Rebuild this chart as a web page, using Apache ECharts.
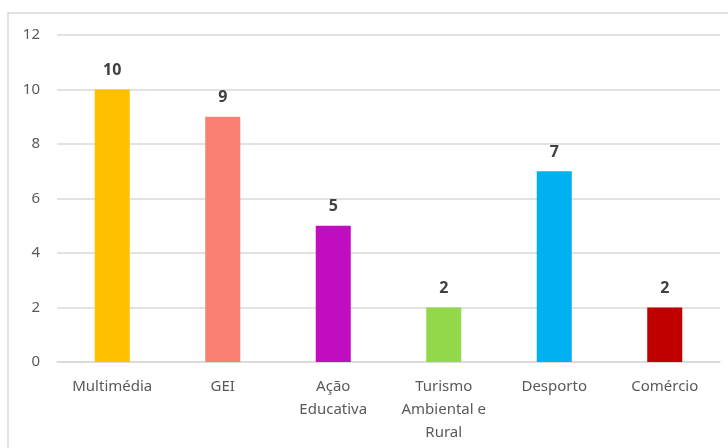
<!DOCTYPE html>
<html>
<head>
<meta charset="utf-8">
<script src="https://cdn.jsdelivr.net/npm/echarts@6/dist/echarts.min.js"></script>
<style>
  html, body { margin: 0; padding: 0; background: #fff; }
  #chart { width: 728px; height: 448px; }
</style>
</head>
<body>
<div id="chart"></div>
<script>
// Activity areas and their counts
const categories = ['Multimédia', 'GEI', 'Ação\nEducativa', 'Turismo\nAmbiental e\nRural', 'Desporto', 'Comércio'];
const values = [10, 9, 5, 2, 7, 2];
const barColors = ['#FFC000', '#FA8072', '#C00DBF', '#92D84A', '#00B0F0', '#C00000'];
const yTicks = [0, 2, 4, 6, 8, 10, 12];

const chart = echarts.init(document.getElementById('chart'), null, { renderer: 'canvas' });
const font = '"Noto Sans", Inter, sans-serif';

chart.setOption({
  animation: false,
  backgroundColor: '#fff',
  graphic: [{
    type: 'rect',
    shape: { x: 8, y: 13, width: 740, height: 460 },
    style: { fill: 'none', stroke: '#d9d9d9', lineWidth: 1.5 },
    silent: true
  }],
  grid: { left: 57, right: 8, top: 35, bottom: 86, containLabel: false },
  xAxis: {
    type: 'category',
    data: categories,
    axisTick: { show: false },
    axisLine: { show: true, lineStyle: { color: '#d9d9d9', width: 1.5 } },
    axisLabel: {
      color: '#595959', fontSize: 15, fontFamily: font,
      lineHeight: 23, margin: 13, interval: 0
    }
  },
  yAxis: {
    type: 'value',
    min: yTicks[0],
    max: yTicks[yTicks.length - 1],
    interval: 2,
    axisLine: { show: false },
    axisTick: { show: false },
    splitLine: { lineStyle: { color: '#d9d9d9', width: 1.5 } },
    axisLabel: { color: '#595959', fontSize: 15, fontFamily: font, margin: 17 }
  },
  series: [{
    type: 'bar',
    data: values.map((v, i) => ({ value: v, itemStyle: { color: barColors[i] } })),
    barWidth: '31.7%',
    label: {
      show: true, position: 'top', distance: 11,
      color: '#404040', fontSize: 16, fontWeight: 'bold', fontFamily: font
    }
  }]
});
</script>
</body>
</html>
